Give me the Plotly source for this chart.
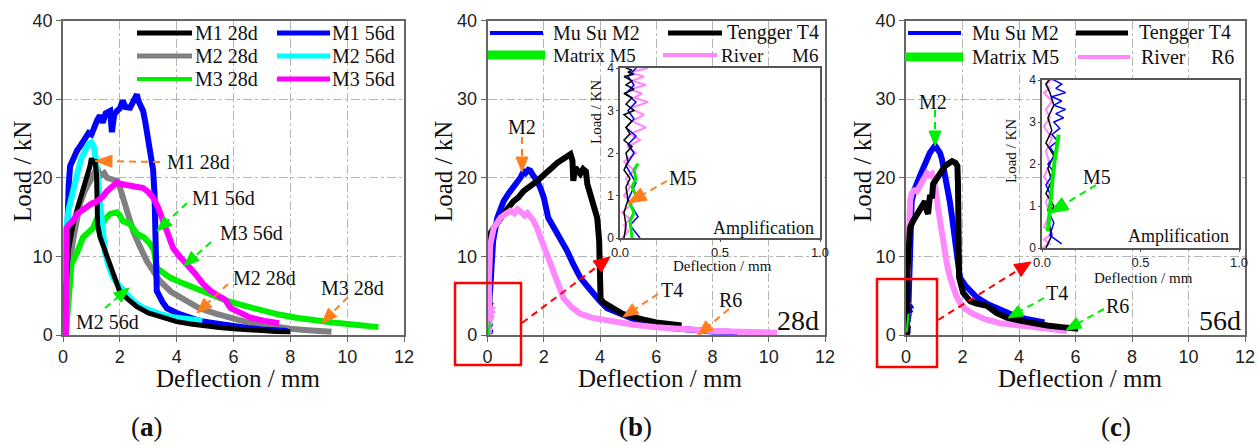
import math
import plotly.graph_objects as go

W, H = 1258, 446

# ---------------- Panel (a) data ----------------
a_m1_28_x = [0.05, 0.1, 0.2, 0.35, 0.5, 0.7, 0.85, 0.95, 1.0, 1.05, 1.12, 1.18, 1.2, 1.22, 1.3, 1.45, 1.6, 1.8, 2.0, 2.3, 2.6, 3.0, 3.5, 4.0, 4.5, 5.0, 5.5, 6.0, 6.5, 7.0, 7.5, 8.0]
a_m1_28_y = [0, 6, 11, 14, 16, 18.5, 20, 21.5, 22.5, 21.8, 22.3, 20.5, 17, 14, 12.5, 11, 9.5, 7.5, 5.5, 4.5, 3.6, 2.8, 2.2, 1.7, 1.4, 1.1, 0.95, 0.8, 0.65, 0.55, 0.45, 0.4]

a_m1_56_x = [0.05, 0.12, 0.2, 0.25, 0.3, 0.4, 0.5, 0.6, 0.7, 0.77, 0.9, 1.0, 1.1, 1.2, 1.3, 1.4, 1.5, 1.66, 1.72, 1.8, 1.9, 2.0, 2.1, 2.2, 2.36, 2.45, 2.54, 2.6, 2.65, 2.82, 2.9, 3.0, 3.1, 3.17, 3.22, 3.24, 3.26, 3.3, 3.5, 3.66, 4.0, 4.8, 5.5, 6.0, 6.5, 7.0, 7.5, 7.9]
a_m1_56_y = [0, 12, 19, 21.5, 22, 23, 23.5, 24, 24.7, 25, 25.7, 25.5, 26.5, 27.3, 27.9, 27, 28.2, 28.5, 25.8, 28, 28.5, 28.8, 29.8, 29, 28.9, 29.5, 30.4, 30.6, 29.8, 28.5, 27, 25.1, 23, 21, 18, 13, 8, 5.6, 4.2, 3.4, 2.8, 1.8, 1.4, 1.1, 0.9, 0.7, 0.6, 0.5]

a_m2_28_x = [0.1, 0.2, 0.35, 0.5, 0.6, 0.75, 0.95, 1.1, 1.2, 1.3, 1.45, 1.55, 1.7, 1.9, 2.0, 2.1, 2.3, 2.47, 2.7, 2.95, 3.2, 3.4, 3.8, 4.36, 4.8, 5.4, 6.0, 6.5, 7.0, 7.5, 8.0, 8.5, 9.0, 9.45]
a_m2_28_y = [0, 8, 12, 14.5, 16.7, 18.2, 19.6, 20.5, 21.3, 20.2, 20.6, 20, 19.8, 19.6, 18.8, 17.5, 15.3, 13.2, 11.3, 9.4, 8.0, 6.9, 5.5, 4.3, 3.4, 2.7, 2.0, 1.6, 1.3, 1.0, 0.8, 0.65, 0.5, 0.4]

a_m2_56_x = [0.02, 0.05, 0.1, 0.2, 0.35, 0.5, 0.65, 0.8, 0.9, 1.0, 1.08, 1.15, 1.22, 1.3, 1.38, 1.48, 1.6, 1.76, 2.0, 2.2, 2.47, 2.8, 3.1, 3.4, 3.8, 4.2, 4.6, 4.9]
a_m2_56_y = [0, 8, 13, 16, 18.7, 20.5, 22.5, 23.5, 24.3, 24.5, 24, 22.5, 19.5, 16.5, 14, 10.5, 8.8, 7.3, 6.2, 5.3, 4.3, 3.5, 3.0, 2.7, 2.3, 2.1, 1.9, 1.8]

a_m3_28_x = [0.1, 0.2, 0.3, 0.35, 0.5, 0.7, 0.9, 1.06, 1.2, 1.3, 1.37, 1.5, 1.66, 1.9, 2.0, 2.1, 2.36, 2.6, 2.85, 3.06, 3.2, 3.3, 3.5, 3.77, 4.2, 4.6, 5.2, 5.8, 6.4, 7.0, 7.6, 8.2, 8.9, 9.5, 10.2, 10.7, 11.1]
a_m3_28_y = [0, 6, 9, 9.4, 10.5, 12.4, 13, 13.6, 14.9, 14.2, 14.1, 14.8, 15.4, 15.6, 15.2, 14.5, 14.1, 12.9, 12.4, 11.6, 10.8, 8.5, 7.9, 7.3, 6.6, 6.0, 5.1, 4.3, 3.7, 3.1, 2.6, 2.2, 1.8, 1.6, 1.35, 1.15, 1.0]

a_m3_56_x = [0.1, 0.11, 0.12, 0.13, 0.2, 0.35, 0.5, 0.65, 0.84, 1.0, 1.2, 1.4, 1.55, 1.75, 1.9, 2.05, 2.25, 2.5, 2.82, 3.0, 3.17, 3.35, 3.52, 3.7, 3.87, 4.1, 4.36, 4.65, 4.93, 5.2, 5.5, 5.7, 5.9, 6.2, 6.6, 7.1, 7.6]
a_m3_56_y = [0, 5, 10, 13.6, 14, 14.5, 15.4, 15.8, 16.2, 16.7, 17, 17.6, 18.3, 18.8, 19.4, 19.2, 19.1, 19.0, 18.7, 18.2, 17.5, 16.2, 14.5, 12.8, 11.1, 10, 9.0, 7.8, 6.5, 5.6, 4.9, 4.5, 3.4, 2.8, 2.2, 1.8, 1.5]

# ---------------- Panel (b) data, 28d ----------------
# early stage (0-4 kN), shown magnified in the inset
b_m2_early_x = [0.1, 0.05, 0.09, 0.04, 0.08, 0.03, 0.07, 0.04, 0.08, 0.03, 0.07, 0.04, 0.08, 0.03, 0.07, 0.04, 0.08, 0.05]
b_m2_early_y = [0.0, 0.3, 0.5, 0.9, 1.3, 1.7, 2.0, 2.2, 2.4, 2.6, 2.8, 3.0, 3.2, 3.4, 3.6, 3.8, 4.0, 4.1]
b_t4_early_x = [0.02, 0.03, 0.02, 0.04, 0.03, 0.05, 0.02, 0.04, 0.03, 0.06, 0.02, 0.05, 0.03, 0.06, 0.02, 0.07, 0.03, 0.06, 0.02, 0.07, 0.03, 0.06, 0.02, 0.07, 0.04, 0.06, 0.03, 0.07]
b_t4_early_y = [0.0, 0.3, 0.6, 0.9, 1.2, 1.4, 1.6, 1.8, 2.0, 2.15, 2.3, 2.45, 2.6, 2.75, 2.9, 3.0, 3.15, 3.3, 3.4, 3.5, 3.6, 3.7, 3.8, 3.85, 3.9, 3.95, 4.0, 4.1]
b_r6_early_x = [0.01, 0.04, 0.02, 0.05, 0.01, 0.06, 0.02, 0.05, 0.03, 0.07, 0.02, 0.08, 0.04, 0.10, 0.05, 0.13, 0.06, 0.12, 0.05, 0.14, 0.07, 0.11, 0.05, 0.13, 0.06, 0.12, 0.05, 0.14, 0.06]
b_r6_early_y = [0.0, 0.15, 0.3, 0.45, 0.6, 0.8, 1.0, 1.2, 1.4, 1.6, 1.8, 2.0, 2.15, 2.3, 2.45, 2.6, 2.75, 2.9, 3.05, 3.2, 3.3, 3.4, 3.5, 3.6, 3.7, 3.8, 3.9, 4.0, 4.1]
b_m5_x = [0.06, 0.05, 0.07, 0.05, 0.08, 0.06, 0.08, 0.07, 0.09]
b_m5_y = [0.0, 0.4, 0.6, 0.8, 1.0, 1.2, 1.4, 1.6, 1.75]

b_m2_x = [0.1, 0.15, 0.2, 0.35, 0.57, 0.75, 0.92, 1.05, 1.17, 1.28, 1.35, 1.45, 1.52, 1.62, 1.77, 1.9, 2.0, 2.16, 2.3, 2.48, 2.65, 2.83, 3.05, 3.3, 3.55, 3.76, 4.0, 4.25, 4.7, 5.2, 5.6, 6.0, 6.5, 7.0, 7.5, 8.0, 8.5, 8.9]
b_m2_y = [6, 9, 12, 14.9, 17, 18, 18.7, 19.5, 20, 20.8, 20.6, 21, 20.9, 20.3, 19.6, 18.5, 17.5, 14.9, 14, 13.2, 12, 10.7, 9, 7.3, 6.2, 5.2, 4.3, 3.4, 2.7, 2.0, 1.6, 1.2, 0.9, 0.7, 0.55, 0.45, 0.4, 0.35]
b_t4_x = [0.05, 0.08, 0.1, 0.2, 0.46, 0.7, 0.92, 1.1, 1.28, 1.5, 1.77, 1.95, 2.13, 2.3, 2.48, 2.65, 2.83, 2.95, 3.02, 3.05, 3.12, 3.23, 3.3, 3.4, 3.5, 3.55, 3.65, 3.72, 3.82, 3.9, 3.97, 4.0, 4.02, 4.1, 4.25, 4.47, 4.8, 5.2, 5.6, 6.0, 6.5, 6.9]
b_t4_y = [7, 11, 12.9, 13.5, 14.9, 16, 17, 17.5, 18.3, 18.8, 19.6, 20.2, 20.9, 21.3, 21.9, 22.3, 22.8, 23.0, 22.2, 19.6, 21.3, 20.9, 20.5, 21.1, 20.8, 19.2, 18, 17, 16, 14.9, 12, 8, 4.7, 4.2, 3.8, 3.4, 2.7, 2.2, 1.9, 1.6, 1.4, 1.2]
b_r6_x = [0.05, 0.07, 0.1, 0.22, 0.35, 0.46, 0.6, 0.82, 0.95, 1.06, 1.2, 1.32, 1.42, 1.55, 1.64, 1.76, 1.88, 2.0, 2.13, 2.35, 2.5, 2.7, 3.0, 3.3, 3.7, 4.25, 4.7, 5.2, 6.0, 7.0, 8.0, 9.0, 9.7, 10.3]
b_r6_y = [7, 10, 11.5, 13.6, 14.5, 14.9, 15.3, 15.8, 15.5, 16, 15.6, 15.2, 15.5, 15, 14.5, 13.6, 12.4, 11.4, 10.3, 7.8, 6.4, 4.7, 3.5, 2.7, 2.2, 1.8, 1.5, 1.3, 1.0, 0.7, 0.5, 0.4, 0.35, 0.3]

# ---------------- Panel (c) data, 56d ----------------
c_m2_early_x = [0.10, 0.04, 0.06, 0.03, 0.05, 0.02, 0.06, 0.03, 0.07, 0.04, 0.08, 0.05, 0.09, 0.06, 0.11, 0.07, 0.12, 0.06, 0.10, 0.05, 0.12, 0.07, 0.10, 0.06, 0.09]
c_m2_early_y = [0.1, 0.3, 0.6, 0.9, 1.2, 1.5, 1.8, 2.0, 2.2, 2.4, 2.55, 2.7, 2.85, 3.0, 3.1, 3.2, 3.3, 3.4, 3.5, 3.6, 3.7, 3.8, 3.9, 4.0, 4.1]
c_t4_early_x = [0.02, 0.05, 0.03, 0.06, 0.02, 0.05, 0.03, 0.06, 0.02, 0.05, 0.03, 0.06, 0.04, 0.02, 0.05]
c_t4_early_y = [0.0, 0.3, 0.7, 1.0, 1.3, 1.6, 1.9, 2.2, 2.5, 2.8, 3.1, 3.4, 3.7, 3.9, 4.1]
c_r6_early_x = [0.00, 0.04, 0.01, 0.05, 0.01, 0.04, 0.02, 0.05, 0.01, 0.04, 0.02, 0.05, 0.01, 0.04, 0.02, 0.05, 0.01, 0.04, 0.02, 0.05, 0.02]
c_r6_early_y = [0.0, 0.1, 0.2, 0.35, 0.5, 0.8, 1.1, 1.4, 1.7, 2.0, 2.3, 2.6, 2.9, 3.1, 3.3, 3.5, 3.7, 3.8, 3.9, 4.0, 4.1]
c_m5_x = [0.03, 0.035, 0.04, 0.045, 0.055, 0.065, 0.075, 0.085]
c_m5_y = [0.4, 0.7, 1.0, 1.3, 1.7, 2.1, 2.4, 2.7]

c_m2_x = [0.12, 0.14, 0.2, 0.3, 0.39, 0.5, 0.62, 0.74, 0.85, 0.95, 1.03, 1.12, 1.2, 1.27, 1.35, 1.45, 1.55, 1.63, 1.72, 1.8, 1.91, 2.1, 2.3, 2.5, 2.9, 3.33, 3.8, 4.3, 4.74, 4.9]
c_m2_y = [8, 15, 17, 18.5, 19.6, 20.3, 21.3, 22.5, 23.2, 23.7, 24.1, 23.6, 23.2, 22.4, 21, 19.2, 17, 15, 12.5, 9.9, 7.3, 6.3, 5.5, 4.8, 3.9, 3.2, 2.5, 2.0, 1.7, 1.6]
c_t4_x = [0.05, 0.1, 0.14, 0.25, 0.4, 0.5, 0.6, 0.67, 0.72, 0.78, 0.85, 0.92, 0.96, 1.05, 1.2, 1.38, 1.5, 1.63, 1.75, 1.82, 1.84, 1.85, 1.88, 2.02, 2.27, 2.5, 2.87, 3.2, 3.57, 4.07, 4.5, 5.0, 5.5, 6.1]
c_t4_y = [8, 12, 13.6, 14.5, 15.5, 15.8, 16.5, 17, 16, 15.4, 17.8, 17.4, 19.2, 19.8, 20.5, 21.5, 21.9, 22.1, 21.9, 21.5, 19.2, 12.9, 7.3, 5.4, 4.3, 4.0, 3.7, 2.8, 2.2, 1.8, 1.5, 1.2, 1.0, 0.8]
c_r6_x = [0.05, 0.07, 0.1, 0.15, 0.2, 0.3, 0.39, 0.48, 0.57, 0.66, 0.74, 0.83, 0.92, 0.98, 1.03, 1.08, 1.13, 1.2, 1.27, 1.36, 1.45, 1.55, 1.66, 1.78, 1.91, 2.1, 2.37, 2.8, 3.33, 3.8, 4.2, 4.6, 5.0, 5.4, 5.7]
c_r6_y = [7, 12.9, 15.5, 17.2, 18, 18.4, 18.3, 19, 19.6, 20, 20.6, 20.3, 20.5, 20, 19.2, 17.8, 16.2, 14.5, 12.9, 10.8, 9.0, 7.4, 6.1, 5.0, 4.1, 3.3, 2.7, 2.0, 1.5, 1.3, 1.1, 0.95, 0.8, 0.6, 0.5]

x_ticks = [0, 2, 4, 6, 8, 10, 12]
y_ticks = [0, 10, 20, 30, 40]
inset_x_ticks = [0, 0.5, 1.0]
inset_x_labels = ["0.0", "0.5", "1.0"]
inset_y_ticks = [0, 1, 2, 3, 4]

BLACK, GRAY, GREEN, BLUE, CYAN, MAGENTA, PINK = "#000000", "#808080", "#00ee00", "#0000ff", "#00ffff", "#ff00ff", "#ff88ff"
ORANGE, RED = "#ff7f1e", "#ff0000"
SERIF = "Liberation Serif"
SANS = "Liberation Sans"
LW = 6

fig = go.Figure()

def add(x, y, color, width, xa, ya, name):
    fig.add_trace(go.Scatter(x=x, y=y, mode="lines", name=name, showlegend=False,
                             line=dict(color=color, width=width), xaxis=xa, yaxis=ya))

# (a)
add(a_m2_28_x, a_m2_28_y, GRAY, LW, "x", "y", "M2 28d")
add(a_m3_28_x, a_m3_28_y, GREEN, LW, "x", "y", "M3 28d")
add(a_m1_56_x, a_m1_56_y, BLUE, LW, "x", "y", "M1 56d")
add(a_m2_56_x, a_m2_56_y, CYAN, LW, "x", "y", "M2 56d")
add(a_m1_28_x, a_m1_28_y, BLACK, 5, "x", "y", "M1 28d")
add(a_m3_56_x, a_m3_56_y, MAGENTA, LW, "x", "y", "M3 56d")

# (b)
add(b_m2_early_x + b_m2_x, b_m2_early_y + b_m2_y, BLUE, LW, "x2", "y2", "Mu Su M2")
add(b_t4_early_x + b_t4_x, b_t4_early_y + b_t4_y, BLACK, LW, "x2", "y2", "Tengger T4")
add(b_r6_early_x + b_r6_x, b_r6_early_y + b_r6_y, PINK, LW, "x2", "y2", "River R6")
add(b_m5_x, b_m5_y, GREEN, 2, "x2", "y2", "Matrix M5")
# (b) inset
add(b_r6_early_x + b_r6_x, b_r6_early_y + b_r6_y, PINK, 2, "x4", "y4", "River R6")
add(b_m2_early_x + b_m2_x, b_m2_early_y + b_m2_y, BLUE, 1.5, "x4", "y4", "Mu Su M2")
add(b_t4_early_x + b_t4_x, b_t4_early_y + b_t4_y, BLACK, 1.5, "x4", "y4", "Tengger T4")
add(b_m5_x, b_m5_y, GREEN, 3, "x4", "y4", "Matrix M5")

# (c)
add(c_m2_early_x + c_m2_x, c_m2_early_y + c_m2_y, BLUE, LW, "x3", "y3", "Mu Su M2")
add(c_r6_early_x + c_r6_x, c_r6_early_y + c_r6_y, PINK, LW, "x3", "y3", "River R6")
add(c_t4_early_x + c_t4_x, c_t4_early_y + c_t4_y, BLACK, LW, "x3", "y3", "Tengger T4")
add(c_m5_x, c_m5_y, GREEN, 2, "x3", "y3", "Matrix M5")
# (c) inset
add(c_r6_early_x + c_r6_x, c_r6_early_y + c_r6_y, PINK, 2, "x5", "y5", "River R6")
add(c_t4_early_x + c_t4_x, c_t4_early_y + c_t4_y, BLACK, 1.5, "x5", "y5", "Tengger T4")
add(c_m2_early_x + c_m2_x, c_m2_early_y + c_m2_y, BLUE, 1.5, "x5", "y5", "Mu Su M2")
add(c_m5_x, c_m5_y, GREEN, 4, "x5", "y5", "Matrix M5")

def px_dom(p0, p1):
    return [p0 / W, p1 / W]

def py_dom(top, bottom):
    return [1 - bottom / H, 1 - top / H]

main_x = dict(range=[0, 12], tickvals=x_ticks, showline=True, linecolor="#666", linewidth=1.5, mirror=True,
              ticks="outside", ticklen=5, tickcolor="#666", showgrid=True, gridcolor="#b5b5b5",
              griddash="dashdot", gridwidth=1, zeroline=False, automargin=False,
              tickfont=dict(family=SANS, size=18, color="#222"))
main_y = dict(main_x, range=[0, 40], tickvals=y_ticks)
ins_x = dict(range=[0, 1], tickvals=inset_x_ticks, ticktext=inset_x_labels, showline=True, linecolor="#555",
             linewidth=1.5, mirror=True, ticks="outside", ticklen=2, tickcolor="#555", showgrid=False,
             zeroline=False, automargin=False, tickfont=dict(family=SANS, size=13, color="#222"))
ins_y = dict(ins_x, range=[0, 4], tickvals=inset_y_ticks, ticktext=[str(v) for v in inset_y_ticks],
             tickfont=dict(family=SANS, size=12, color="#222"))

Y_MAIN = py_dom(20.5, 335)
fig.update_layout(
    xaxis=dict(main_x, domain=px_dom(63, 404), anchor="y"),
    yaxis=dict(main_y, domain=Y_MAIN, anchor="x"),
    xaxis2=dict(main_x, domain=px_dom(487.5, 825), anchor="y2"),
    yaxis2=dict(main_y, domain=Y_MAIN, anchor="x2"),
    xaxis3=dict(main_x, domain=px_dom(906, 1245), anchor="y3"),
    yaxis3=dict(main_y, domain=Y_MAIN, anchor="x3"),
    xaxis4=dict(ins_x, domain=px_dom(620, 820), anchor="y4"),
    yaxis4=dict(ins_y, domain=py_dom(68, 238), anchor="x4"),
    xaxis5=dict(ins_x, domain=px_dom(1042, 1239), anchor="y5"),
    yaxis5=dict(ins_y, domain=py_dom(80, 248), anchor="x5"),
)

shapes = []
annotations = []

def P(px, py):
    return px / W, 1 - py / H

def text(px, py, s, size, color="#111", family=SERIF, xanchor="center", angle=0):
    x, y = P(px, py)
    annotations.append(dict(x=x, y=y, xref="paper", yref="paper", text=s, showarrow=False,
                            xanchor=xanchor, yanchor="middle", textangle=angle,
                            font=dict(family=family, size=size, color=color)))

def seg(x0, y0, x1, y1, color, width, dash=None):
    a0, b0 = P(x0, y0)
    a1, b1 = P(x1, y1)
    ln = dict(color=color, width=width)
    if dash:
        ln["dash"] = dash
    shapes.append(dict(type="line", xref="paper", yref="paper", x0=a0, y0=b0, x1=a1, y1=b1, line=ln))

def arrow(tail, tip, color, head_len=15, head_w=6, width=2):
    (tx, ty), (hx, hy) = tail, tip
    dx, dy = hx - tx, hy - ty
    L = math.hypot(dx, dy)
    ux, uy = dx / L, dy / L
    bx, by = hx - ux * head_len, hy - uy * head_len
    if L > head_len + 2:
        seg(tx, ty, bx, by, color, width, dash="7px,5px")
    nx, ny = -uy, ux
    p0 = P(hx, hy)
    p1 = P(bx + nx * head_w, by + ny * head_w)
    p2 = P(bx - nx * head_w, by - ny * head_w)
    path = f"M{p0[0]},{p0[1]} L{p1[0]},{p1[1]} L{p2[0]},{p2[1]} Z"
    shapes.append(dict(type="path", xref="paper", yref="paper", path=path, fillcolor=color,
                       line=dict(color=color, width=1)))

def legend_item(x0, x1, y, color, width, tx, label, size=20):
    seg(x0, y, x1, y, color, width)
    text(tx, y, label, size, xanchor="left")

# ---- legends ----
legend_item(137, 192, 33, BLACK, 5, 193, "M1 28d")
legend_item(277, 330, 33, BLUE, 5, 330, "M1 56d")
legend_item(137, 192, 56, GRAY, 5, 193, "M2 28d")
legend_item(277, 330, 56, CYAN, 5, 330, "M2 56d")
legend_item(137, 192, 79, GREEN, 4, 193, "M3 28d")
legend_item(277, 330, 79, MAGENTA, 5, 330, "M3 56d")

legend_item(490, 543, 33, BLUE, 4, 551, "Mu Su M2")
legend_item(668, 722, 33, BLACK, 5, 725, "Tengger T4")
legend_item(488, 545, 55, GREEN, 9, 551, "Matrix M5", size=19)
legend_item(663, 717, 55, PINK, 4, 719, "River", size=19)
text(820, 55, "M6", 19, xanchor="right")

legend_item(908, 961, 33, BLUE, 4, 970, "Mu Su M2")
legend_item(1076, 1128, 33, BLACK, 5, 1137, "Tengger T4")
legend_item(905, 963, 57, GREEN, 9, 970, "Matrix M5")
legend_item(1078, 1130, 57, PINK, 4, 1139, "River")
text(1236, 57, "R6", 20, xanchor="right")

# ---- annotations panel (a) ----
text(198, 162, "M1 28d", 20); arrow((160, 162), (95, 161), ORANGE, head_len=17, head_w=6)
text(223, 198, "M1 56d", 20); arrow((187, 203), (157, 231), GREEN)
text(251, 233, "M3 56d", 20); arrow((211, 242), (184, 266), GREEN)
text(264, 278, "M2 28d", 20); arrow((228, 284), (197, 313), ORANGE)
text(352, 288, "M3 28d", 20); arrow((348, 297), (322, 323), ORANGE)
text(107, 322, "M2 56d", 20); arrow((105, 308), (129, 288), GREEN)

# ---- annotations panel (b) ----
text(522, 127, "M2", 20); arrow((522, 137), (522, 172), ORANGE)
text(683, 178, "M5", 20); arrow((667, 181), (628, 203), ORANGE, head_len=18, head_w=7)
text(672, 290, "T4", 20); arrow((658, 294), (623, 317), ORANGE)
text(730, 300, "R6", 20); arrow((729, 309), (698, 335), ORANGE)
text(798, 320, "28d", 28)

# ---- annotations panel (c) ----
text(933, 102, "M2", 20); arrow((935, 110), (935, 146), GREEN)
text(1097, 177, "M5", 20); arrow((1096, 185), (1050, 213), GREEN, head_len=18, head_w=7)
text(1057, 293, "T4", 20); arrow((1044, 298), (1008, 318), GREEN)
text(1117, 306, "R6", 20); arrow((1104, 309), (1066, 330), GREEN)
text(1220, 320, "56d", 28)

# ---- red zoom boxes and arrows ----
for (l, t, r, b) in [(455, 283, 521, 365), (877, 279, 937, 367)]:
    a0, b0 = P(l, b)
    a1, b1 = P(r, t)
    shapes.append(dict(type="rect", xref="paper", yref="paper", x0=a0, y0=b0, x1=a1, y1=b1,
                       line=dict(color=RED, width=2.5)))
arrow((522, 323), (610, 257), RED, head_len=16, head_w=7)
arrow((938, 320), (1031, 262), RED, head_len=16, head_w=7)

# ---- axis titles ----
for cx in (238, 660, 1080):
    text(cx, 378, "Deflection / mm", 25)
for cx in (22, 443, 862):
    text(cx, 172, "Load / kN", 25, angle=-90)

# inset titles
text(596, 112, "Load / KN", 15, angle=-90)
text(722, 266, "Deflection / mm", 15)
text(763, 228, "Amplification", 18)
text(1011, 151, "Load / KN", 15, angle=-90)
text(1143, 278, "Deflection / mm", 15)
text(1178, 236, "Amplification", 18)

# panel labels
text(147, 427, "(<b>a</b>)", 27)
text(635, 427, "(<b>b</b>)", 27)
text(1116, 427, "(<b>c</b>)", 27)

fig.update_layout(
    width=W, height=H, margin=dict(l=0, r=0, t=0, b=0, autoexpand=False),
    paper_bgcolor="white", plot_bgcolor="white",
    showlegend=False, shapes=shapes, annotations=annotations,
)

fig.write_html("out.html", config={"displayModeBar": False},
               post_script="document.body.style.margin='0';document.body.style.overflow='hidden';")
